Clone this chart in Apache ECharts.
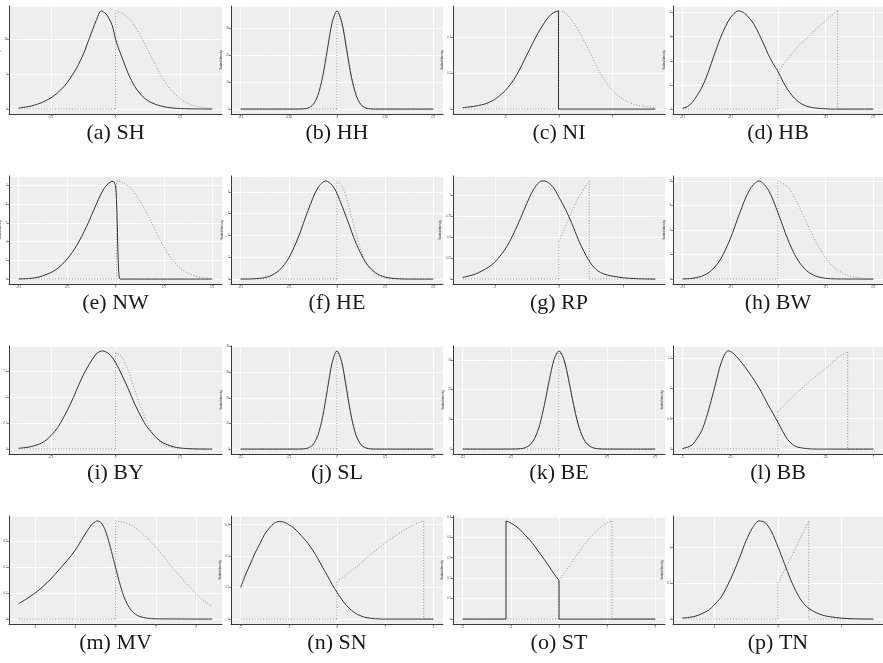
<!DOCTYPE html>
<html>
<head>
<meta charset="utf-8">
<script src="https://cdn.jsdelivr.net/npm/echarts@6/dist/echarts.min.js"></script>
<style>
  html, body { margin: 0; background: #fff; }
  #chart { width: 883px; height: 663px; }
</style>
</head>
<body>
<div id="chart"></div>
<script>
// each panel: a solid curve and a dotted curve, [x, density] pairs
const shSolid = [[-0.15,0.14],[-0.13,0.45],[-0.115,0.9],[-0.1,1.6],[-0.09,2.3],[-0.08,3.2],[-0.07,4.4],[-0.06,5.9],[-0.05,7.8],[-0.04,10.2],[-0.03,12.6],[-0.022,14.0],[-0.015,13.6],[-0.01,12.9],[-0.005,11.9],[0,10.0],[0.005,8.6],[0.012,6.9],[0.02,5.0],[0.03,3.2],[0.04,2.0],[0.05,1.2],[0.06,0.75],[0.07,0.45],[0.08,0.25],[0.095,0.1],[0.12,0.03],[0.15,0.01]];
const shDotted = [[-0.15,0],[0,0],[0,14.0],[0.01,13.7],[0.02,13.0],[0.03,11.8],[0.04,10.2],[0.05,8.4],[0.06,6.6],[0.07,4.9],[0.08,3.4],[0.09,2.3],[0.1,1.5],[0.11,0.9],[0.12,0.5],[0.13,0.3],[0.14,0.15],[0.15,0.08]];

const hhSolid = [[-0.1,0],[-0.05,0],[-0.04,0.02],[-0.035,0.08],[-0.03,0.4],[-0.025,1.6],[-0.02,5.0],[-0.015,11.9],[-0.01,22.2],[-0.005,32.3],[0,36.6],[0.005,32.3],[0.01,22.2],[0.015,11.9],[0.02,5.0],[0.025,1.6],[0.03,0.4],[0.035,0.08],[0.04,0.02],[0.05,0],[0.1,0]];
const hhDotted = [[-0.1,0],[0,0],[0,36.6],[0.005,32.3],[0.01,22.2],[0.015,11.9],[0.02,5.0],[0.025,1.6],[0.03,0.4],[0.035,0.08],[0.05,0],[0.1,0]];

const niSolid = [[-1.8,0.008],[-1.7,0.011],[-1.6,0.015],[-1.5,0.02],[-1.4,0.027],[-1.3,0.038],[-1.2,0.054],[-1.1,0.076],[-1.0,0.104],[-0.9,0.14],[-0.8,0.185],[-0.7,0.24],[-0.6,0.301],[-0.5,0.36],[-0.4,0.418],[-0.3,0.467],[-0.2,0.51],[-0.1,0.536],[-0.01,0.545],[-0.01,0],[1.8,0]];
const niDotted = [[-1.8,0],[0,0],[0,0.545],[0.1,0.536],[0.2,0.51],[0.3,0.467],[0.4,0.418],[0.5,0.36],[0.6,0.301],[0.7,0.24],[0.8,0.185],[0.9,0.14],[1.0,0.104],[1.1,0.076],[1.2,0.054],[1.3,0.038],[1.4,0.027],[1.5,0.02],[1.6,0.015],[1.7,0.011],[1.8,0.008]];

const hbSolid = [[-0.2,0.03],[-0.19,0.1],[-0.18,0.27],[-0.17,0.55],[-0.16,0.88],[-0.15,1.33],[-0.14,1.88],[-0.13,2.45],[-0.12,2.98],[-0.11,3.43],[-0.1,3.78],[-0.09,4.0],[-0.082,4.07],[-0.07,3.97],[-0.06,3.77],[-0.05,3.5],[-0.04,3.12],[-0.03,2.7],[-0.02,2.25],[-0.01,1.88],[0,1.56],[0.01,1.15],[0.02,0.82],[0.03,0.55],[0.04,0.35],[0.05,0.21],[0.06,0.12],[0.07,0.07],[0.08,0.04],[0.1,0.01],[0.12,0],[0.2,0]];
const hbDotted = [[-0.2,0],[0,0],[0,1.56],[0.015,1.95],[0.03,2.32],[0.045,2.65],[0.064,3.0],[0.08,3.32],[0.098,3.63],[0.11,3.85],[0.125,4.07],[0.125,0],[0.2,0]];

const nwSolid = [[-0.2,0.01],[-0.18,0.03],[-0.16,0.1],[-0.14,0.27],[-0.12,0.56],[-0.1,1.07],[-0.08,1.8],[-0.06,2.8],[-0.04,3.98],[-0.03,4.55],[-0.02,4.98],[-0.01,5.2],[-0.005,5.23],[0,5.0],[0.003,3.5],[0.005,1.5],[0.007,0.3],[0.01,0],[0.2,0]];
const nwDotted = [[-0.2,0],[0.002,0],[0.002,5.25],[0.015,5.15],[0.03,4.9],[0.045,4.4],[0.06,3.75],[0.075,3.0],[0.09,2.2],[0.105,1.5],[0.12,0.95],[0.135,0.55],[0.15,0.3],[0.165,0.16],[0.18,0.07],[0.2,0.03]];

const heSolid = [[-0.2,0.003],[-0.18,0.015],[-0.16,0.07],[-0.14,0.26],[-0.12,0.8],[-0.1,1.94],[-0.08,3.87],[-0.06,6.3],[-0.04,8.35],[-0.023,9.0],[-0.01,8.6],[0,7.85],[0.02,5.6],[0.04,3.24],[0.06,1.5],[0.08,0.58],[0.1,0.18],[0.12,0.046],[0.14,0.01],[0.2,0]];
const heDotted = [[-0.2,0],[0,0],[0,9.0],[0.01,8.6],[0.02,7.4],[0.03,5.8],[0.04,4.1],[0.05,2.6],[0.06,1.5],[0.07,0.8],[0.08,0.4],[0.1,0.07],[0.12,0.01],[0.2,0]];

const rpSolid = [[-1.5,0.02],[-1.3,0.06],[-1.1,0.14],[-1.0,0.2],[-0.9,0.29],[-0.8,0.4],[-0.7,0.55],[-0.6,0.72],[-0.5,0.9],[-0.4,1.06],[-0.3,1.155],[-0.25,1.165],[-0.2,1.16],[-0.1,1.1],[0,0.97],[0.1,0.83],[0.2,0.66],[0.3,0.47],[0.4,0.31],[0.5,0.18],[0.6,0.1],[0.7,0.06],[0.8,0.04],[1.0,0.015],[1.2,0.005],[1.5,0]];
const rpDotted = [[-1.5,0],[0,0],[0,0.45],[0.08,0.59],[0.18,0.77],[0.28,0.93],[0.385,1.07],[0.47,1.165],[0.47,0],[1.5,0]];

const bwSolid = [[-0.2,0.014],[-0.18,0.06],[-0.16,0.23],[-0.14,0.68],[-0.12,1.64],[-0.1,3.29],[-0.08,5.4],[-0.06,7.24],[-0.04,8.0],[-0.02,7.24],[0,5.4],[0.02,3.29],[0.04,1.64],[0.06,0.68],[0.08,0.23],[0.1,0.06],[0.12,0.014],[0.2,0]];
const bwDotted = [[-0.2,0],[0,0],[0,8.0],[0.02,7.52],[0.04,6.25],[0.06,4.6],[0.08,3.0],[0.1,1.73],[0.12,0.88],[0.14,0.39],[0.16,0.16],[0.18,0.05],[0.2,0.02]];

const bySolid = [[-0.15,0.08],[-0.13,0.25],[-0.11,0.75],[-0.09,2.05],[-0.07,4.34],[-0.05,7.15],[-0.03,9.2],[-0.02,9.5],[-0.01,9.2],[0,8.4],[0.01,7.15],[0.02,5.8],[0.03,4.34],[0.04,3.1],[0.05,2.05],[0.07,0.75],[0.09,0.22],[0.11,0.05],[0.13,0.01],[0.15,0]];
const byDotted = [[-0.15,0],[0,0],[0,9.4],[0.01,8.9],[0.02,7.56],[0.03,5.7],[0.04,3.9],[0.05,2.4],[0.06,1.27],[0.07,0.62],[0.08,0.27],[0.1,0.04],[0.15,0]];

const slSolid = [[-0.2,0],[-0.08,0.01],[-0.07,0.08],[-0.06,0.43],[-0.05,1.68],[-0.04,5.2],[-0.03,12.4],[-0.02,23.2],[-0.01,33.8],[0,38.3],[0.01,33.8],[0.02,23.2],[0.03,12.4],[0.04,5.2],[0.05,1.68],[0.06,0.43],[0.07,0.08],[0.08,0.01],[0.2,0]];
const slDotted = [[-0.2,0],[0,0],[0,38.3],[0.01,33.8],[0.02,23.2],[0.03,12.4],[0.04,5.2],[0.05,1.68],[0.06,0.43],[0.07,0.08],[0.08,0.01],[0.2,0]];

const beSolid = [[-0.2,0],[-0.1,0.01],[-0.08,0.13],[-0.07,0.47],[-0.06,1.45],[-0.05,3.75],[-0.04,8.2],[-0.03,15.1],[-0.02,23.3],[-0.01,30.2],[0,33],[0.01,30.2],[0.02,23.3],[0.03,15.1],[0.04,8.2],[0.05,3.75],[0.06,1.45],[0.07,0.47],[0.08,0.13],[0.1,0.01],[0.2,0]];
const beDotted = [[-0.2,0],[0,0],[0,33],[0.01,30.2],[0.02,23.3],[0.03,15.1],[0.04,8.2],[0.05,3.75],[0.06,1.45],[0.07,0.47],[0.08,0.13],[0.1,0.01],[0.2,0]];

const bbSolid = [[-1,0.01],[-0.95,0.03],[-0.9,0.07],[-0.85,0.17],[-0.8,0.3],[-0.75,0.52],[-0.7,0.8],[-0.65,1.1],[-0.6,1.4],[-0.55,1.58],[-0.52,1.615],[-0.48,1.59],[-0.4,1.46],[-0.3,1.25],[-0.2,1.01],[-0.1,0.72],[0,0.44],[0.05,0.29],[0.1,0.16],[0.15,0.08],[0.2,0.035],[0.3,0.008],[0.4,0],[1,0]];
const bbDotted = [[-1,0],[0,0],[0,0.62],[0.07,0.73],[0.14,0.84],[0.22,0.96],[0.31,1.08],[0.4,1.2],[0.48,1.3],[0.56,1.41],[0.62,1.5],[0.68,1.56],[0.73,1.6],[0.73,0],[1,0]];

const mvSolid = [[-2.4,0.06],[-2.2,0.078],[-2.0,0.1],[-1.8,0.125],[-1.6,0.155],[-1.4,0.19],[-1.2,0.225],[-1.0,0.265],[-0.8,0.315],[-0.7,0.34],[-0.6,0.362],[-0.5,0.375],[-0.45,0.378],[-0.35,0.37],[-0.25,0.34],[-0.15,0.29],[-0.05,0.23],[0,0.2],[0.1,0.14],[0.2,0.09],[0.3,0.055],[0.4,0.032],[0.5,0.018],[0.6,0.01],[0.8,0.003],[1.0,0.001],[2.4,0]];
const mvDotted = [[-2.4,0],[0,0],[0,0.378],[0.2,0.373],[0.4,0.36],[0.6,0.338],[0.8,0.31],[1.0,0.277],[1.2,0.24],[1.4,0.2],[1.6,0.165],[1.8,0.13],[2.0,0.098],[2.2,0.07],[2.4,0.048]];

const snSolid = [[-2,0.1],[-1.9,0.14],[-1.8,0.175],[-1.7,0.21],[-1.6,0.24],[-1.5,0.27],[-1.4,0.29],[-1.3,0.305],[-1.2,0.31],[-1.1,0.308],[-1.0,0.3],[-0.9,0.29],[-0.8,0.275],[-0.7,0.258],[-0.6,0.24],[-0.5,0.218],[-0.4,0.193],[-0.3,0.165],[-0.2,0.138],[-0.1,0.11],[0,0.085],[0.1,0.062],[0.2,0.043],[0.3,0.028],[0.4,0.017],[0.5,0.01],[0.6,0.005],[0.8,0.001],[1.0,0],[2.0,0]];
const snDotted = [[-2,0],[0,0],[0,0.12],[0.2,0.142],[0.4,0.165],[0.6,0.192],[0.8,0.218],[1.0,0.242],[1.2,0.263],[1.4,0.283],[1.6,0.3],[1.8,0.312],[1.8,0],[2,0]];

const stSolid = [[-2,0],[-1.1,0],[-1.1,0.48],[-1.0,0.47],[-0.9,0.455],[-0.8,0.435],[-0.7,0.41],[-0.6,0.385],[-0.5,0.355],[-0.4,0.322],[-0.3,0.29],[-0.2,0.255],[-0.1,0.22],[0,0.189],[0,0],[2,0]];
const stDotted = [[-2,0],[0,0],[0,0.189],[0.1,0.22],[0.2,0.255],[0.3,0.29],[0.4,0.322],[0.5,0.355],[0.6,0.385],[0.7,0.41],[0.8,0.435],[0.9,0.455],[1.0,0.47],[1.1,0.48],[1.1,0],[2,0]];

const tnSolid = [[-1.5,0.014],[-1.3,0.04],[-1.1,0.12],[-1.0,0.2],[-0.9,0.3],[-0.8,0.46],[-0.7,0.65],[-0.6,0.87],[-0.5,1.1],[-0.4,1.28],[-0.3,1.375],[-0.2,1.35],[-0.1,1.22],[0,1.01],[0.1,0.78],[0.2,0.55],[0.3,0.36],[0.4,0.22],[0.5,0.14],[0.6,0.09],[0.7,0.055],[0.8,0.035],[1.0,0.013],[1.2,0.004],[1.5,0]];
const tnDotted = [[-1.5,0],[0,0],[0,0.507],[0.06,0.61],[0.12,0.72],[0.19,0.84],[0.27,0.976],[0.33,1.09],[0.37,1.164],[0.43,1.27],[0.485,1.375],[0.485,0],[1.5,0]];

const captions = ["(a) SH","(b) HH","(c) NI","(d) HB","(e) NW","(f) HE","(g) RP","(h) BW","(i) BY","(j) SL","(k) BE","(l) BB","(m) MV","(n) SN","(o) ST","(p) TN"];
const solidCurves = [shSolid, hhSolid, niSolid, hbSolid, nwSolid, heSolid, rpSolid, bwSolid, bySolid, slSolid, beSolid, bbSolid, mvSolid, snSolid, stSolid, tnSolid];
const dottedCurves = [shDotted, hhDotted, niDotted, hbDotted, nwDotted, heDotted, rpDotted, bwDotted, byDotted, slDotted, beDotted, bbDotted, mvDotted, snDotted, stDotted, tnDotted];
const xSteps = [0.1, 0.05, 1, 0.1, 0.1, 0.1, 1, 0.1, 0.1, 0.1, 0.1, 0.5, 1, 1, 1, 1];
const ySteps = [5, 10, 0.2, 1, 1, 2, 0.25, 2, 2.5, 10, 10, 0.5, 0.1, 0.1, 0.1, 0.5];

// layout of the 4x4 panels
const colLeft = [9, 231, 453, 673];
const colWidth = [213, 212, 212, 210];
const rowTop = [6, 176, 346, 516];
const plotHeight = 108;
const captionY = [133, 303, 473, 643];

// split a curve where it jumps vertically, so smoothing never bends the jump
function pieces(data) {
  const out = [];
  let cur = [data[0]];
  for (let i = 1; i < data.length; i++) {
    if (data[i][0] === data[i - 1][0]) {
      out.push(cur);
      out.push([data[i - 1], data[i]]);
      cur = [data[i]];
    } else {
      cur.push(data[i]);
    }
  }
  out.push(cur);
  return out.filter(p => p.length > 1);
}

const grids = [], xAxes = [], yAxes = [], series = [], texts = [];

captions.forEach((cap, i) => {
  const c = i % 4, r = Math.floor(i / 4);
  const all = solidCurves[i].concat(dottedCurves[i]);
  const xs = all.map(p => p[0]), ys = all.map(p => p[1]);
  const x0 = Math.min(...xs), x1 = Math.max(...xs), yTop = Math.max(...ys);
  const xPad = (x1 - x0) * 0.05;

  grids.push({
    left: colLeft[c], top: rowTop[r], width: colWidth[c], height: plotHeight,
    show: true, backgroundColor: '#eeeeee', borderWidth: 0, containLabel: false,
    outerBoundsMode: 'none'
  });

  xAxes.push({
    gridIndex: i, type: 'value',
    min: x0 - xPad, max: x1 + xPad,
    minInterval: xSteps[i], maxInterval: xSteps[i],
    axisLine: { show: true, onZero: false, lineStyle: { color: '#3a3a3a', width: 1 } },
    axisTick: { show: true, length: 2, lineStyle: { color: '#3a3a3a', width: 0.6 } },
    axisLabel: { fontSize: 3, color: '#555', margin: 2, showMinLabel: false, showMaxLabel: false },
    splitLine: { show: true, lineStyle: { color: '#ffffff', width: 0.8 } },
    minorTick: { show: false, splitNumber: 2 },
    minorSplitLine: { show: true, lineStyle: { color: '#f6f6f6', width: 0.4 } }
  });

  yAxes.push({
    gridIndex: i, type: 'value',
    min: -0.05 * yTop, max: 1.05 * yTop,
    minInterval: ySteps[i], maxInterval: ySteps[i],
    name: 'Scaled density', nameLocation: 'middle', nameGap: 5, nameRotate: 90,
    nameTextStyle: { fontSize: 3, color: '#333' },
    axisLine: { show: true, onZero: false, lineStyle: { color: '#3a3a3a', width: 1 } },
    axisTick: { show: true, length: 2, lineStyle: { color: '#3a3a3a', width: 0.6 } },
    axisLabel: { fontSize: 3, color: '#555', margin: 1.5, showMinLabel: false, showMaxLabel: false },
    splitLine: { show: true, lineStyle: { color: '#ffffff', width: 0.8 } },
    minorTick: { show: false, splitNumber: 2 },
    minorSplitLine: { show: true, lineStyle: { color: '#f6f6f6', width: 0.4 } }
  });

  pieces(dottedCurves[i]).forEach(seg => series.push({
    type: 'line', xAxisIndex: i, yAxisIndex: i, data: seg,
    smooth: seg.length > 2 ? 0.3 : false, symbol: 'none', silent: true, z: 2,
    lineStyle: { color: '#8a8a8a', width: 0.9, type: [1, 1.8] }
  }));
  pieces(solidCurves[i]).forEach(seg => series.push({
    type: 'line', xAxisIndex: i, yAxisIndex: i, data: seg,
    smooth: seg.length > 2 ? 0.3 : false, symbol: 'none', silent: true, z: 3,
    lineStyle: { color: '#333333', width: 1 }
  }));

  texts.push({
    type: 'text', silent: true,
    x: colLeft[c] + colWidth[c] / 2, y: captionY[r],
    style: { text: cap, font: '22px "Liberation Serif"', fill: '#1a1a1a', align: 'center', verticalAlign: 'middle' }
  });
});

const myChart = echarts.init(document.getElementById('chart'), null, { renderer: 'canvas' });
myChart.setOption({
  animation: false,
  backgroundColor: '#ffffff',
  grid: grids,
  xAxis: xAxes,
  yAxis: yAxes,
  series: series,
  graphic: texts
});
</script>
</body>
</html>
